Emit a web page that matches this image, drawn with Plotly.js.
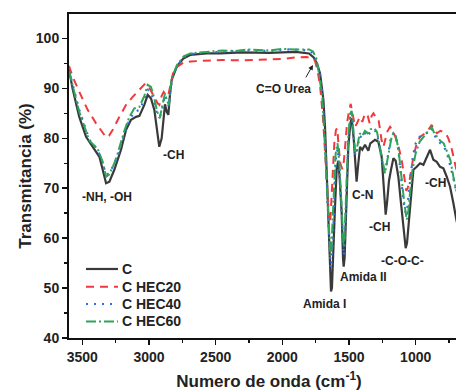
<!DOCTYPE html>
<html>
<head>
<meta charset="utf-8">
<script src="https://cdn.plot.ly/plotly-3.0.1.min.js"></script>
<style>
html,body{margin:0;padding:0;overflow:hidden;background:#fff;}
#chart{width:480px;height:391px;}
</style>
</head>
<body>
<div id="chart"></div>
<script>
// ---- data (wavenumber cm-1, transmittance %) ----
const wnC = [3600,3572,3523,3472,3422,3372,3347,3322,3297,3260,3210,3172,3135,3097,3072,3035,3010,2985,2960,2940,2923,2905,2893,2880,2867,2855,2842,2830,2792,2742,2692,2567,2467,2300,2100,1900,1800,1765,1740,1717,1692,1680,1667,1655,1642,1635,1628,1617,1605,1592,1580,1570,1555,1545,1540,1533,1517,1505,1490,1480,1465,1450,1443,1430,1417,1400,1380,1355,1340,1305,1280,1255,1240,1230,1225,1215,1200,1185,1167,1150,1130,1110,1092,1075,1065,1055,1037,1017,992,967,942,917,892,867,842,817,792,767,742,717,697,650];
const tC  = [93.8,89.8,84.3,80.3,78.3,76.3,73.7,71.0,71.3,73.7,77.7,81.7,83.7,84.3,84.5,86.7,88.7,88.0,85.7,82.0,78.3,80.0,83.7,86.8,85.3,84.7,89.0,91.7,94.3,96.0,96.7,97.0,97.0,97.2,97.1,97.3,97.0,96.2,95.0,93.0,87.7,82.3,73.0,63.0,53.7,49.3,50.0,56.3,66.3,74.0,75.5,72.0,65.0,56.0,54.3,56.0,69.7,78.3,83.0,84.0,80.0,73.0,71.3,75.0,78.3,77.7,78.7,77.5,79.0,79.7,79.3,76.3,71.0,66.5,64.7,67.0,71.5,73.7,76.0,75.5,72.3,67.0,61.7,58.0,59.0,62.3,68.3,73.7,74.3,75.0,74.7,76.3,77.7,75.7,75.3,74.3,74.0,72.3,70.3,67.0,64.0,58.0];

const wnHEC20 = [3600,3572,3523,3460,3397,3347,3322,3300,3272,3222,3172,3122,3072,3027,3005,2985,2960,2935,2922,2905,2890,2870,2855,2840,2820,2790,2740,2690,2600,2450,2300,2150,2000,1900,1820,1780,1755,1735,1715,1695,1680,1667,1655,1647,1640,1630,1620,1610,1598,1588,1578,1565,1550,1540,1530,1515,1500,1487,1470,1455,1440,1420,1400,1380,1360,1345,1330,1317,1300,1280,1267,1255,1242,1230,1210,1192,1175,1155,1130,1105,1085,1070,1060,1045,1017,992,967,930,905,880,860,840,815,792,770,755,735,717,697,650];
const tHEC20  = [94.5,92.3,89.3,85.7,83.0,81.0,80.2,80.5,81.7,84.3,86.7,88.3,89.7,91.0,90.5,89.5,88.0,87.0,86.7,88.5,89.3,88.5,88.7,90.5,93.0,94.3,95.2,95.4,95.5,95.7,95.6,95.8,95.9,96.2,96.3,96.0,95.5,93.5,90.0,84.0,77.0,70.0,64.5,63.0,63.5,68.0,74.0,79.0,81.7,82.0,78.5,75.0,73.8,75.0,78.0,83.0,85.5,86.9,84.5,82.3,83.0,84.3,83.3,85.0,84.5,83.0,84.5,85.0,84.3,84.0,81.7,79.5,78.3,79.7,81.5,82.3,81.7,80.5,78.5,75.7,72.0,69.5,70.0,71.7,76.3,79.0,80.3,81.0,81.7,82.7,81.5,81.0,81.5,81.3,80.8,80.0,78.5,76.0,74.0,70.0];

const wnHEC40 = [3600,3572,3523,3447,3385,3347,3322,3297,3260,3235,3185,3147,3110,3072,3035,3010,2985,2960,2940,2917,2900,2880,2865,2850,2840,2825,2790,2740,2690,2560,2400,2250,2100,1950,1850,1790,1760,1735,1720,1695,1683,1670,1657,1645,1637,1630,1620,1610,1598,1585,1572,1558,1545,1540,1533,1520,1505,1490,1480,1467,1455,1447,1435,1420,1400,1380,1360,1340,1310,1290,1270,1255,1240,1230,1220,1205,1185,1167,1150,1130,1110,1092,1075,1065,1050,1037,1020,1000,970,940,905,880,860,840,815,790,765,740,717,697,650];
const tHEC40  = [93.5,90.5,85.7,79.7,77.7,75.0,72.7,73.0,75.0,76.3,81.0,83.7,85.3,85.7,87.7,89.7,89.3,87.0,85.0,84.3,86.0,88.7,87.5,86.3,89.5,92.0,94.5,96.2,96.9,97.2,97.4,97.6,97.5,97.8,97.7,97.5,96.7,94.5,93.0,88.0,82.0,74.0,65.0,57.0,54.0,55.5,60.0,68.0,76.0,78.0,74.0,67.0,59.0,56.5,58.0,70.0,80.0,84.5,85.3,81.0,77.0,76.5,78.0,80.5,80.0,81.0,80.3,81.3,81.7,81.0,78.0,76.0,74.0,73.5,74.5,77.0,80.3,81.0,80.5,77.7,72.0,67.5,65.0,65.5,69.5,73.0,76.5,79.0,80.3,80.5,81.5,82.0,80.5,80.0,79.0,78.5,77.0,74.5,72.0,69.5,66.0];

const wnHEC60 = [3600,3572,3523,3447,3385,3347,3322,3297,3260,3235,3185,3147,3110,3072,3035,3010,2985,2960,2940,2920,2900,2880,2865,2850,2840,2825,2790,2740,2690,2560,2450,2350,2250,2100,2000,1900,1800,1770,1745,1725,1700,1688,1675,1662,1650,1640,1632,1622,1612,1600,1586,1572,1558,1547,1541,1534,1520,1505,1490,1480,1467,1455,1447,1435,1420,1400,1380,1360,1340,1310,1290,1270,1255,1240,1230,1220,1205,1180,1167,1150,1130,1105,1085,1067,1055,1040,1025,1000,970,935,905,880,860,840,815,790,765,740,717,697,650];
const tHEC60  = [93.5,90.3,85.3,79.5,77.9,75.3,72.3,72.8,75.0,77.0,81.5,84.3,86.0,86.3,88.5,90.7,90.3,88.0,85.5,84.0,86.5,89.0,87.5,86.7,90.0,92.3,94.7,96.4,97.0,97.4,97.6,97.5,97.8,97.6,97.9,97.8,97.8,97.4,96.0,93.0,88.0,82.5,75.0,66.0,59.0,56.5,58.0,63.0,70.0,77.0,79.0,75.0,68.0,61.0,58.5,60.0,71.0,80.5,85.0,85.5,81.5,77.5,77.0,79.0,81.0,80.5,81.5,81.0,81.8,82.0,81.3,78.5,76.3,74.5,73.0,74.5,77.0,80.3,81.0,80.5,78.0,71.7,67.0,63.7,65.5,69.7,73.5,77.0,79.3,80.5,81.5,82.3,81.0,80.3,79.5,79.0,77.5,75.7,72.3,69.7,66.5];

const seriesNames = ["C","C HEC20","C HEC40","C HEC60"];

// annotation labels: [text, wavenumber, transmittance]
const labelTexts = ["-NH, -OH","-CH","C=O Urea","C-N","-CH","-C-O-C-","Amida II","Amida I","-CH"];
const labelWn    = [3315,2820,1991,1402,1275,1102,1395,1687,855];
const labelT     = [68.3,76.7,89.9,68.7,62.3,55.5,52.3,46.9,71.1];

const FONT = "Liberation Sans, Arial, Helvetica, sans-serif";
const lineStyles = [
  {color: "#3a3a3a", width: 2.2},
  {color: "#f0393d", width: 2, dash: "8px,6px"},
  {color: "#2f6fe0", width: 2.2, dash: "2px,6px"},
  {color: "#2ea35a", width: 2, dash: "10px,3px,2px,3px"}
];
const xs = [wnC, wnHEC20, wnHEC40, wnHEC60];
const ys = [tC, tHEC20, tHEC40, tHEC60];

const traces = seriesNames.map((n, i) => ({
  type: "scatter", mode: "lines", x: xs[i], y: ys[i], name: n, line: lineStyles[i], showlegend: false
}));

const annotations = labelTexts.map((s, i) => ({
  x: labelWn[i], y: labelT[i], xref: "x", yref: "y", text: s, showarrow: false,
  font: {family: FONT, size: 12, color: "#222", weight: "bold"}
}));
// arrow for C=O Urea
annotations.push({x: 1770, y: 94.7, xref: "x", yref: "y", ax: 1830, ay: 91.9, axref: "x", ayref: "y",
  text: "", showarrow: true, arrowhead: 2, arrowsize: 1, arrowwidth: 1, arrowcolor: "#222"});

// legend (drawn as line samples + text, paper coordinates)
const legY = [0.213, 0.158, 0.105, 0.051];
const shapes = [];
seriesNames.forEach((n, i) => {
  shapes.push({type: "line", xref: "paper", yref: "paper", x0: 0.0425, x1: 0.1225, y0: legY[i], y1: legY[i],
    line: lineStyles[i]});
  annotations.push({xref: "paper", yref: "paper", x: 0.128, y: legY[i], xanchor: "left", yanchor: "middle",
    text: n, showarrow: false, font: {family: FONT, size: 14, color: "#222", weight: "bold"}});
});

const layout = {
  width: 480, height: 391,
  margin: {l: 69, r: 11, t: 14, b: 52.7},
  paper_bgcolor: "#fff", plot_bgcolor: "#fff",
  showlegend: false,
  xaxis: {
    range: [3600, 600], autorange: false,
    showgrid: false, zeroline: false,
    showline: true, linecolor: "#111", linewidth: 2, mirror: true,
    ticks: "outside", ticklen: 5, tickwidth: 1.5, tickcolor: "#111",
    tickmode: "array", tickvals: [3500,3000,2500,2000,1500,1000],
    minor: {tickvals: [3250,2750,2250,1750,1250,750], ticks: "outside", ticklen: 3, tickwidth: 1.5, tickcolor: "#111"},
    tickfont: {family: FONT, size: 14, color: "#222", weight: "bold"},
    title: {text: "Numero de onda (cm<sup>-1</sup>)", font: {family: FONT, size: 17, color: "#222", weight: "bold"}, standoff: 12}
  },
  yaxis: {
    range: [40, 104.9], autorange: false,
    showgrid: false, zeroline: false,
    showline: true, linecolor: "#111", linewidth: 2, mirror: true,
    ticks: "outside", ticklen: 5, tickwidth: 1.5, tickcolor: "#111",
    tickmode: "array", tickvals: [40,50,60,70,80,90,100],
    minor: {tickvals: [45,55,65,75,85,95], ticks: "outside", ticklen: 3, tickwidth: 1.5, tickcolor: "#111"},
    tickfont: {family: FONT, size: 14, color: "#222", weight: "bold"},
    title: {text: "Transmitancia (%)", font: {family: FONT, size: 17, color: "#222", weight: "bold"}, standoff: 0}
  },
  annotations: annotations,
  shapes: shapes
};

Plotly.newPlot("chart", traces, layout, {displayModeBar: false, staticPlot: true});
</script>
</body>
</html>
